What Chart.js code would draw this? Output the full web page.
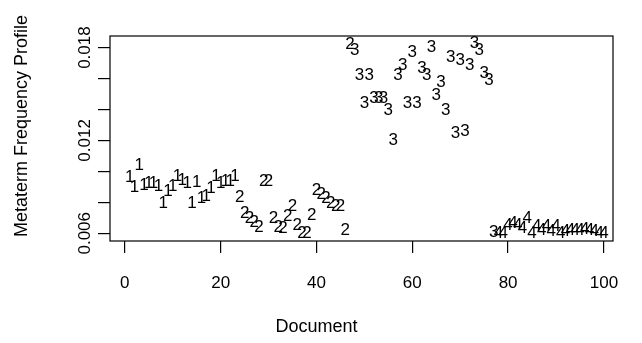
<!DOCTYPE html>
<html><head><meta charset="utf-8">
<script src="https://cdn.jsdelivr.net/npm/chart.js@4/dist/chart.umd.min.js"></script>
<style>html,body{margin:0;padding:0;background:#fff}#wrap{width:642px;height:343px}</style>
</head><body><div id="wrap"><canvas id="c" width="642" height="343"></canvas></div>
<script>
const cluster1Docs = [1,2,3,4,5,6,7,8,9,10,11,12,13,14,15,16,17,18,19,20,21,22,23];
const cluster1Values = [0.00960,0.00895,0.01041,0.00912,0.00925,0.00925,0.00905,0.00795,0.00873,0.00905,0.00970,0.00944,0.00925,0.00795,0.00931,0.00828,0.00837,0.00889,0.00966,0.00925,0.00934,0.00934,0.00966];
const cluster2Docs = [24,25,26,27,28,29,30,31,32,33,34,35,36,37,38,39,40,41,42,43,44,45,46,47];
const cluster2Values = [0.00831,0.00731,0.00699,0.00673,0.00641,0.00937,0.00937,0.00699,0.00641,0.00634,0.00712,0.00776,0.00654,0.00602,0.00602,0.00718,0.00879,0.00854,0.00828,0.00795,0.00776,0.00776,0.00621,0.01821];
const cluster3Docs = [48,49,50,51,52,53,54,55,56,57,58,59,60,61,62,63,64,65,66,67,68,69,70,71,72,73,74,75,76,77];
const cluster3Values = [0.01783,0.01621,0.01439,0.01621,0.01475,0.01475,0.01471,0.01396,0.01202,0.01621,0.01686,0.01439,0.01772,0.01439,0.01665,0.01621,0.01804,0.01492,0.01578,0.01396,0.01739,0.01245,0.01718,0.01256,0.01686,0.01826,0.01783,0.01632,0.01589,0.00604];
const cluster4Docs = [78,79,80,81,82,83,84,85,86,87,88,89,90,91,92,93,94,95,96,97,98,99,100];
const cluster4Values = [0.00602,0.00602,0.00654,0.00665,0.00654,0.00632,0.00697,0.00602,0.00643,0.00621,0.00643,0.00610,0.00643,0.00599,0.00610,0.00621,0.00621,0.00621,0.00626,0.00621,0.00610,0.00600,0.00599];
const clusterLabels = ['1','2','3','4'];
const xTicks = [0,20,40,60,80,100];
const yTicks = [0.006,0.008,0.010,0.012,0.014,0.016,0.018];
const yTickLabels = [0.006,0.012,0.018];
const xTitle = 'Document';
const yTitle = 'Metaterm Frequency Profile';

const FONT = '"Liberation Sans", Arial, Helvetica, sans-serif';
const docsList = [cluster1Docs, cluster2Docs, cluster3Docs, cluster4Docs];
const valsList = [cluster1Values, cluster2Values, cluster3Values, cluster4Values];
const datasets = clusterLabels.map((lab, i) => ({
  label: lab,
  data: docsList[i].map((d, j) => ({x: d, y: valsList[i][j]})),
  pointRadius: 0, pointHoverRadius: 0, showLine: false
}));

const textMarks = {
  id: 'textMarks',
  afterDatasetsDraw(chart) {
    const ctx = chart.ctx;
    ctx.save();
    ctx.fillStyle = '#000';
    ctx.font = '17px ' + FONT;
    ctx.textAlign = 'center';
    ctx.textBaseline = 'middle';
    chart.data.datasets.forEach((ds, i) => {
      chart.getDatasetMeta(i).data.forEach(el => ctx.fillText(ds.label, el.x, el.y));
    });
    ctx.restore();
  }
};
const boxAndText = {
  id: 'boxAndText',
  afterDraw(chart) {
    const {ctx, chartArea: a, scales} = chart;
    ctx.save();
    ctx.strokeStyle = '#000';
    ctx.lineWidth = 1.2;
    ctx.strokeRect(a.left, a.top, a.right - a.left, a.bottom - a.top);
    ctx.fillStyle = '#000';
    ctx.textAlign = 'center';
    ctx.textBaseline = 'middle';
    ctx.font = '17px ' + FONT;
    yTickLabels.forEach(v => {
      const y = scales.y.getPixelForValue(v);
      ctx.save();
      ctx.translate(a.left - 25, y);
      ctx.rotate(-Math.PI / 2);
      ctx.fillText(v.toFixed(3), 0, 0);
      ctx.restore();
    });
    ctx.font = '18px ' + FONT;
    ctx.fillText(xTitle, scales.x.getPixelForValue(40), 327);
    ctx.save();
    ctx.translate(22, 126);
    ctx.rotate(-Math.PI / 2);
    ctx.fillText(yTitle, 0, 0);
    ctx.restore();
    ctx.restore();
  }
};

new Chart(document.getElementById('c'), {
  type: 'scatter',
  data: {datasets},
  options: {
    responsive: false, animation: false, devicePixelRatio: 1,
    layout: {padding: {left: 0, right: 29, top: 36, bottom: 0}},
    plugins: {legend: {display: false}, tooltip: {enabled: false}},
    scales: {
      x: {
        type: 'linear', min: -3.1, max: 101.9,
        afterBuildTicks: s => { s.ticks = xTicks.map(v => ({value: v})); },
        afterFit: s => { s.height = 102; },
        grid: {drawOnChartArea: false, drawTicks: true, tickLength: 12, color: '#000', lineWidth: 1.2},
        border: {display: false},
        ticks: {color: '#000', font: {size: 17, family: FONT}, padding: 20, maxRotation: 0}
      },
      y: {
        type: 'linear', min: 0.0055, max: 0.01875,
        afterBuildTicks: s => { s.ticks = yTicks.map(v => ({value: v})); },
        afterFit: s => { s.width = 110; },
        grid: {drawOnChartArea: false, drawTicks: true, tickLength: 12, color: '#000', lineWidth: 1.2},
        border: {display: false},
        ticks: {display: false}
      }
    }
  },
  plugins: [textMarks, boxAndText]
});
</script></body></html>
